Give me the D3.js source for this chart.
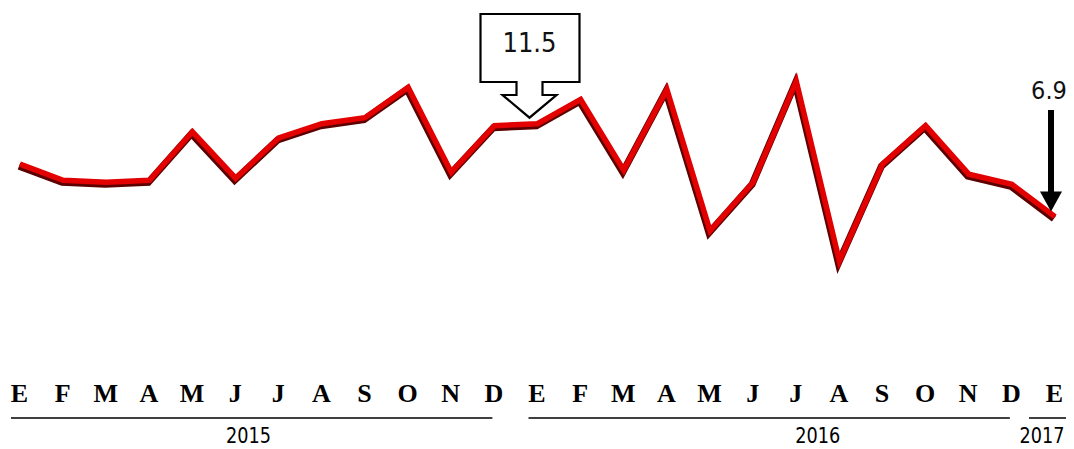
<!DOCTYPE html>
<html>
<head>
<meta charset="utf-8">
<script src="https://cdn.jsdelivr.net/npm/d3@7"></script>
<style>
  body { margin: 0; background: #fff; }
  svg { display: block; }
</style>
</head>
<body>
<svg id="chart" width="1074" height="449"></svg>
<script>
// Monthly series, Jan 2015 - Jan 2017
const months = ["E","F","M","A","M","J","J","A","S","O","N","D",
                "E","F","M","A","M","J","J","A","S","O","N","D","E"];
const values = [9.5, 8.7, 8.6, 8.7, 11.1, 8.8, 10.8, 11.5, 11.8, 13.3, 9.1, 11.4,
                11.5, 12.7, 9.2, 13.2, 6.2, 8.6, 13.6, 4.7, 9.5, 11.4, 9.0, 8.5, 6.9];
const years = ["2015", "2016", "2017"];
const yearStart = [0, 12, 24];
const yearEnd = [11, 23, 24];
const yearLabelAt = [5.3, 18.5, 23.7];
const callouts = [{ index: 12, text: "11.5" }, { index: 24, text: "6.9" }];

const sans = "'DejaVu Sans Condensed', 'DejaVu Sans', sans-serif";

const svg = d3.select("#chart");

const x = d3.scaleLinear().domain([0, months.length - 1]).range([20, 1055]);
const y = d3.scaleLinear().domain([0, 15]).range([356, 53]);

const line = d3.line()
  .x((d, i) => x(i))
  .y(d => y(d));

// dark under-stroke gives the line its shaded look
svg.append("path")
  .datum(values)
  .attr("d", line)
  .attr("transform", "translate(-1,2)")
  .attr("fill", "none")
  .attr("stroke", "#5c0000")
  .attr("stroke-width", 7)
  .attr("stroke-linejoin", "miter");

svg.append("path")
  .datum(values)
  .attr("d", line)
  .attr("fill", "none")
  .attr("stroke", "#e30000")
  .attr("stroke-width", 5.5)
  .attr("stroke-linejoin", "miter");

// month labels
const axis = d3.axisBottom(x)
  .tickValues(d3.range(months.length))
  .tickFormat(i => months[i])
  .tickSize(0)
  .tickPadding(0);

const gx = svg.append("g")
  .attr("transform", "translate(-1,384)")
  .call(axis);
gx.select(".domain").remove();
gx.selectAll("text")
  .attr("font-family", "'Liberation Serif', 'Times New Roman', serif")
  .attr("font-weight", "bold")
  .attr("font-size", 26)
  .attr("fill", "#000");

// year brackets
years.forEach((yr, k) => {
  const single = yearStart[k] === yearEnd[k];
  const x1 = single ? x(yearStart[k]) - 26 : x(yearStart[k]) - 9;
  const x2 = single ? x(yearEnd[k]) + 11 : x(yearEnd[k]) - 2;
  svg.append("line")
    .attr("x1", x1).attr("x2", x2)
    .attr("y1", 418).attr("y2", 418)
    .attr("stroke", "#000").attr("stroke-width", 1.3);
  svg.append("text")
    .attr("x", x(yearLabelAt[k]))
    .attr("y", 443)
    .attr("text-anchor", "middle")
    .attr("font-family", sans)
    .attr("font-size", 22)
    .attr("textLength", 45)
    .attr("lengthAdjust", "spacingAndGlyphs")
    .attr("fill", "#000")
    .text(yr);
});

// callout box pointing at Jan 2016
const c1 = callouts[0];
const tx = x(c1.index) - 8, ty = y(values[c1.index]) - 6;
const box = [
  [tx - 49, 14], [tx + 50, 14], [tx + 50, 82], [tx + 13, 82], [tx + 13, 95],
  [tx + 27, 95], [tx, ty], [tx - 27, 95], [tx - 13, 95], [tx - 13, 82], [tx - 49, 82]
];
svg.append("path")
  .attr("d", d3.line()(box) + "Z")
  .attr("fill", "#fff")
  .attr("stroke", "#000")
  .attr("stroke-width", 2.2);
svg.append("text")
  .attr("x", tx)
  .attr("y", 52)
  .attr("text-anchor", "middle")
  .attr("font-family", sans)
  .attr("font-size", 27)
  .attr("fill", "#111")
  .text(c1.text);

// arrow pointing at Jan 2017
const c2 = callouts[1];
const ax = x(c2.index) - 4, ay = y(values[c2.index]) - 5;
svg.append("rect")
  .attr("x", ax - 3).attr("y", 110)
  .attr("width", 6).attr("height", ay - 110 - 18)
  .attr("fill", "#000");
svg.append("path")
  .attr("d", d3.line()([[ax - 11, ay - 20], [ax + 11, ay - 20], [ax, ay]]) + "Z")
  .attr("fill", "#000");
svg.append("text")
  .attr("x", ax - 2)
  .attr("y", 99)
  .attr("text-anchor", "middle")
  .attr("font-family", sans)
  .attr("font-size", 25)
  .attr("fill", "#111")
  .text(c2.text);
</script>
</body>
</html>
